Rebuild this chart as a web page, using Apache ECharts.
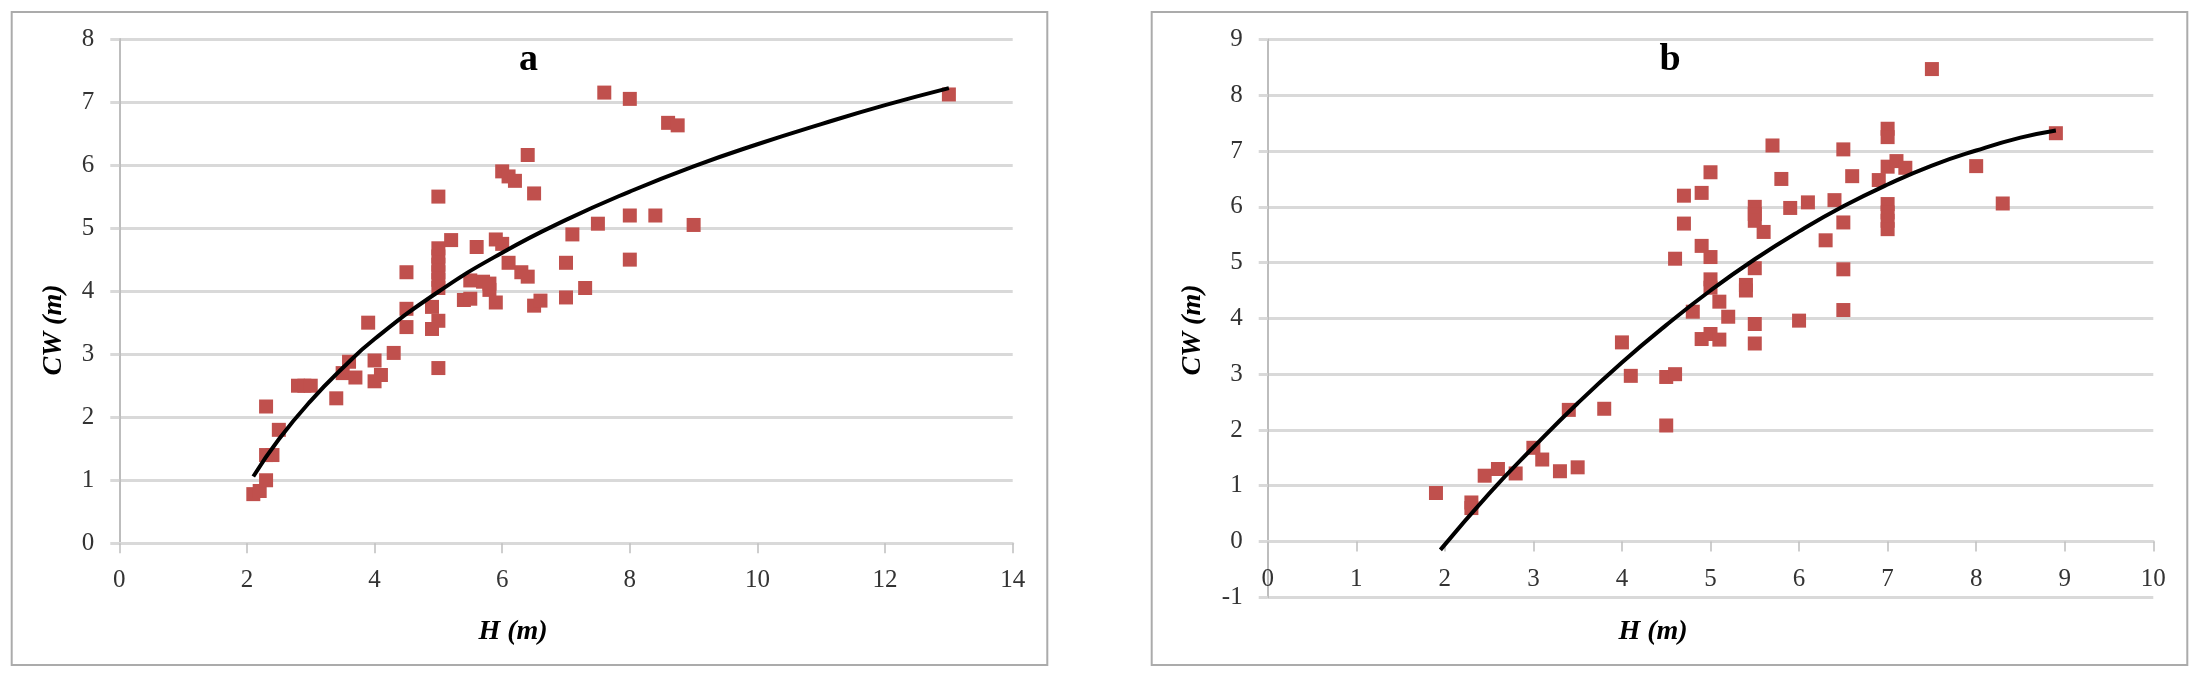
<!DOCTYPE html>
<html>
<head>
<meta charset="utf-8">
<title>CW - H</title>
<script src="https://cdn.jsdelivr.net/npm/echarts@6/dist/echarts.min.js"></script>
<style>
  html, body { margin: 0; padding: 0; background: #fff; }
  #chart { width: 2204px; height: 679px; }
</style>
</head>
<body>
<div id="chart"></div>
<script>
// panel a: measured trees
const hA = [2.1, 2.2, 2.3, 2.3, 2.3, 2.4, 2.5, 2.8, 2.9, 3.0, 3.4, 3.5, 3.6, 3.7, 3.9, 4.0, 4.0, 4.1, 4.3,
  4.5, 4.5, 4.5, 4.9, 4.9, 5.0, 5.0, 5.0, 5.0, 5.0, 5.0, 5.0, 5.0, 5.0, 5.2, 5.4, 5.5, 5.5, 5.6, 5.7,
  5.8, 5.8, 5.9, 5.9, 6.0, 6.0, 6.1, 6.1, 6.2, 6.3, 6.4, 6.4, 6.5, 6.5, 6.6, 7.0, 7.0, 7.1, 7.3, 7.5,
  7.6, 8.0, 8.0, 8.0, 8.4, 8.6, 8.75, 9.0, 13.0];
const cwA = [0.78, 0.83, 1.0, 1.4, 2.17, 1.4, 1.8, 2.5, 2.5, 2.5, 2.3, 2.7, 2.88, 2.63, 3.5, 2.9, 2.57, 2.67, 3.02,
  3.43, 3.72, 4.3, 3.4, 3.75, 2.78, 3.53, 4.05, 4.18, 4.3, 4.42, 4.55, 4.68, 5.5, 4.81, 3.86, 3.88, 4.17, 4.7, 4.15,
  4.02, 4.12, 3.82, 4.82, 4.75, 5.9, 4.45, 5.82, 5.75, 4.3, 4.23, 6.16, 5.55, 3.77, 3.85, 4.45, 3.9, 4.9, 4.05, 5.07,
  7.15, 7.05, 5.2, 4.5, 5.2, 6.67, 6.63, 5.05, 7.12];

// panel a: trend curve, read at these heights
const curveAH = [2.1, 2.5, 3, 3.5, 4, 5, 6, 7, 8, 9, 10, 11, 12, 13];
const curveACW = [1.06, 1.65, 2.26, 2.78, 3.24, 3.99, 4.61, 5.13, 5.58, 5.98, 6.33, 6.65, 6.95, 7.22];

// panel b: measured trees
const hB = [1.9, 2.3, 2.3, 2.45, 2.6, 2.8, 3.0, 3.1, 3.3, 3.4, 3.5, 3.8, 4.0, 4.1, 4.5, 4.5, 4.6, 4.6, 4.7,
  4.7, 4.8, 4.9, 4.9, 4.9, 5.0, 5.0, 5.0, 5.0, 5.0, 5.1, 5.1, 5.2, 5.4, 5.4, 5.5, 5.5, 5.5, 5.5, 5.5, 5.5,
  5.6, 5.7, 5.8, 5.9, 6.0, 6.1, 6.3, 6.4, 6.5, 6.5, 6.5, 6.5, 6.6, 6.9, 7.0, 7.0, 7.0, 7.0, 7.0, 7.0, 7.0,
  7.1, 7.2, 7.5, 8.0, 8.3, 8.9];
const cwB = [0.87, 0.7, 0.6, 1.18, 1.3, 1.22, 1.68, 1.47, 1.26, 2.36, 1.33, 2.38, 3.57, 2.97, 2.95, 2.08, 3.0, 5.07, 6.2,
  5.7, 4.12, 6.25, 5.3, 3.63, 6.62, 5.1, 4.7, 4.55, 3.72, 4.3, 3.62, 4.03, 4.6, 4.5, 6.0, 5.87, 5.75, 4.9, 3.9, 3.55,
  5.55, 7.1, 6.5, 5.98, 3.96, 6.08, 5.4, 6.12, 7.03, 5.72, 4.88, 4.15, 6.55, 6.48, 7.4, 7.25, 6.72, 6.05, 5.9, 5.75, 5.6,
  6.82, 6.7, 8.47, 6.73, 6.06, 7.32];

// panel b: trend curve, read at these heights
const curveBH = [1.95, 2.5, 3, 3.5, 4, 4.5, 5, 5.5, 6, 6.5, 7, 7.5, 8, 8.5, 8.9];
const curveBCW = [-0.15, 0.86, 1.69, 2.48, 3.21, 3.88, 4.5, 5.06, 5.56, 6.01, 6.4, 6.74, 7.01, 7.24, 7.37];

const zip = (xs, ys) => xs.map((x, i) => [x, ys[i]]);

const serif = "'Liberation Serif', 'Times New Roman', serif";
const red = '#c0504d';
const gridColor = '#d9d9d9';

// offset < 0 pulls the x axis up from the grid bottom (panel b crosses at CW = 0)
function xAxisOf(gridIndex, max, interval, offset) {
  return {
    type: 'value', gridIndex, min: 0, max, interval, offset,
    splitLine: { show: false },
    axisLine: { onZero: false, lineStyle: { color: gridColor, width: 3 } },
    axisTick: { show: true, length: 10, lineStyle: { color: '#bfbfbf', width: 1.5 } },
    axisLabel: { margin: 25, fontFamily: serif, fontSize: 25, color: '#333' }
  };
}

function yAxisOf(gridIndex, min, max) {
  return {
    type: 'value', gridIndex, min, max, interval: 1,
    splitLine: { lineStyle: { color: gridColor, width: 3 } },
    axisLine: { show: true, onZero: false, lineStyle: { color: '#bdbdbd', width: 2 } },
    axisTick: { show: true, length: 9, lineStyle: { color: gridColor, width: 3 } },
    axisLabel: { margin: 25, fontFamily: serif, fontSize: 25, color: '#333' }
  };
}

function frame(x, width) {
  return {
    type: 'rect', z: -1,
    shape: { x, y: 12, width, height: 653 },
    style: { fill: '#fff', stroke: '#ababab', lineWidth: 2 }
  };
}

function label(text, x, y, size, opts) {
  return Object.assign({
    type: 'text', x, y,
    style: {
      text, fontFamily: serif, fontSize: size, fontWeight: 'bold',
      fontStyle: 'italic', fill: '#000', align: 'center', verticalAlign: 'middle'
    }
  }, opts || {});
}

function panelTitle(text, x, y) {
  return {
    type: 'text', x, y,
    style: {
      text, fontFamily: serif, fontSize: 38, fontWeight: 'bold',
      fill: '#000', align: 'center', verticalAlign: 'middle'
    }
  };
}

const scatterStyle = { color: red, opacity: 1 };

const option = {
  animation: false,
  grid: [
    { left: 119.3, top: 39, width: 893.4, height: 504.3 },
    { left: 1267.7, top: 39.5, width: 885.6, height: 557.8 }
  ],
  xAxis: [xAxisOf(0, 14, 2, 0), xAxisOf(1, 10, 1, -55.8)],
  yAxis: [yAxisOf(0, 0, 8), yAxisOf(1, -1, 9)],
  series: [
    {
      type: 'scatter', xAxisIndex: 0, yAxisIndex: 0,
      symbol: 'rect', symbolSize: 14, itemStyle: scatterStyle,
      data: zip(hA, cwA)
    },
    {
      type: 'line', xAxisIndex: 0, yAxisIndex: 0, z: 5,
      smooth: true, showSymbol: false,
      lineStyle: { color: '#000', width: 4 },
      data: zip(curveAH, curveACW)
    },
    {
      type: 'scatter', xAxisIndex: 1, yAxisIndex: 1,
      symbol: 'rect', symbolSize: 14, itemStyle: scatterStyle,
      data: zip(hB, cwB)
    },
    {
      type: 'line', xAxisIndex: 1, yAxisIndex: 1, z: 5,
      smooth: true, showSymbol: false,
      lineStyle: { color: '#000', width: 4 },
      data: zip(curveBH, curveBCW)
    }
  ],
  graphic: [
    frame(11.7, 1035.6),
    frame(1151.7, 1035.6),
    panelTitle('a', 528.6, 60),
    panelTitle('b', 1670, 60),
    label('CW (m)', 53.6, 330, 28, { rotation: Math.PI / 2 }),
    label('CW (m)', 1192.6, 330, 28, { rotation: Math.PI / 2 }),
    label('H (m)', 513, 632, 28),
    label('H (m)', 1653, 632, 28)
  ]
};

const chart = echarts.init(document.getElementById('chart'));
chart.setOption(option);
</script>
</body>
</html>
